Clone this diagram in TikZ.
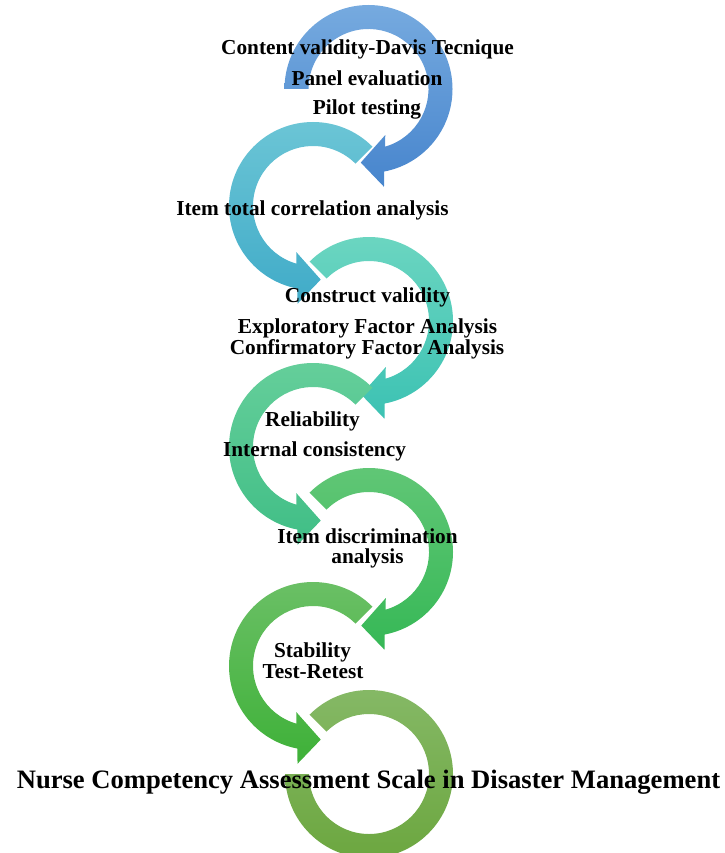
\documentclass[tikz,border=0pt]{standalone}
\usepackage{fontspec}
\setmainfont{Liberation Serif}
\begin{document}
% Ring geometry: outer radius 84, inner radius 60, arrowhead at the bottom.
% Right-hand rings turn clockwise from their tail to a head pointing left;
% left-hand rings are their mirror images.
\newcommand\rightring[5]{%
  \path[top color=#4, bottom color=#5, shift={(#1,-#2)}]
    (#3:84) arc[start angle=#3, end angle=-79.3, radius=84]
    -- (-81:99) -- (-96:74) -- (-70:49) -- (-73.9:60)
    arc[start angle=-73.9, end angle=#3, radius=60] -- cycle;}
\newcommand\leftring[5]{%
  \path[top color=#4, bottom color=#5, shift={(#1,-#2)}]
    (#3:84) arc[start angle=#3, end angle=259.3, radius=84]
    -- (261:99) -- (276:74) -- (250:49) -- (253.9:60)
    arc[start angle=253.9, end angle=#3, radius=60] -- cycle;}
\begin{tikzpicture}[x=1pt,y=1pt,
  steptext/.style={anchor=base, inner sep=0pt, font=\bfseries\fontsize{21.3}{24}\selectfont},
  titletext/.style={anchor=base, inner sep=0pt, font=\bfseries\fontsize{26.6}{30}\selectfont}]
\useasboundingbox (0,0) rectangle (724,-853);

\definecolor{r1a}{HTML}{76AADF}\definecolor{r1b}{HTML}{4785CD}
\definecolor{r2a}{HTML}{6DC6D6}\definecolor{r2b}{HTML}{40ABC8}
\definecolor{r3a}{HTML}{6DD6C1}\definecolor{r3b}{HTML}{3CC2B3}
\definecolor{r4a}{HTML}{66CF9B}\definecolor{r4b}{HTML}{40BE86}
\definecolor{r5a}{HTML}{62C777}\definecolor{r5b}{HTML}{36B856}
\definecolor{r6a}{HTML}{6CC067}\definecolor{r6b}{HTML}{3EB138}
\definecolor{r7a}{HTML}{86B967}\definecolor{r7b}{HTML}{6BA63E}

% the chain of circular arrows
\rightring{368.5}{89}{180}{r1a}{r1b}
\leftring{313}{206}{45}{r2a}{r2b}
\rightring{369}{321}{135}{r3a}{r3b}
\leftring{313}{447}{45}{r4a}{r4b}
\rightring{369}{552}{135}{r5a}{r5b}
\leftring{313}{666}{45}{r6a}{r6b}
% closing ring, no arrowhead
\path[top color=r7a, bottom color=r7b, shift={(369,-774)}]
  (135:84) arc[start angle=135, end angle=-180, radius=84]
  -- (-180:60) arc[start angle=-180, end angle=135, radius=60] -- cycle;

% step labels
\node[steptext] (t1a) at (367.5,-55) {Content validity-Davis Tecnique};
\node[steptext] (t1b) at (367,-86) {Panel evaluation};
\node[steptext] (t1c) at (367,-115) {Pilot testing};
\node[steptext] (t2a) at (312.5,-215) {Item total correlation analysis};
\node[steptext] (t3a) at (367.5,-302) {Construct validity};
\node[steptext] (t3b) at (367.5,-333) {Exploratory Factor Analysis};
\node[steptext] (t3c) at (367,-354) {Confirmatory Factor Analysis};
\node[steptext] (t4a) at (312.5,-426) {Reliability};
\node[steptext] (t4b) at (314.5,-456) {Internal consistency};
\node[steptext] (t5a) at (367.5,-543) {Item discrimination};
\node[steptext] (t5b) at (367.5,-563) {analysis};
\node[steptext] (t6a) at (312.5,-657) {Stability};
\node[steptext] (t6b) at (313,-678) {Test-Retest};
\node[titletext] (title) at (368.5,-788) {Nurse Competency Assessment Scale in Disaster Management};
\end{tikzpicture}
\end{document}
